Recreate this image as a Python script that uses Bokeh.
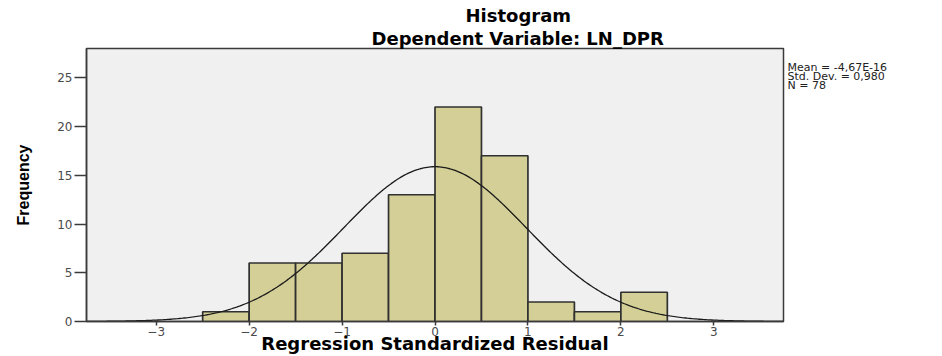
import numpy as np
from bokeh.plotting import figure
from bokeh.layouts import row
from bokeh.models import Range1d, FixedTicker, Title, ColumnDataSource
from bokeh.core.properties import value
from bokeh.embed import file_html
from bokeh.resources import INLINE

# ---- data ----
bin_left = [-2.5, -2.0, -1.5, -1.0, -0.5, 0.0, 0.5, 1.0, 1.5, 2.0]
bin_right = [-2.0, -1.5, -1.0, -0.5, 0.0, 0.5, 1.0, 1.5, 2.0, 2.5]
counts = [1, 6, 6, 7, 13, 22, 17, 2, 1, 3]
x_ticks = [-3, -2, -1, 0, 1, 2, 3]
y_ticks = [0, 5, 10, 15, 20, 25]
mean_val = -4.67e-16
std_val = 0.980
n_val = 78
bin_width = 0.5
stats_lines = ["Mean = -4,67E-16", "Std. Dev. = 0,980", "N = 78"]
title_lines = ["Histogram", "Dependent Variable: LN_DPR"]
x_title = "Regression Standardized Residual"
y_title = "Frequency"

X0, X1 = -3.75, 3.75
Y0, Y1 = 0, 28
FL, FR, FT, FB = 86, 783, 48, 322
MAIN_W = 786
SIDE_W = 942 - MAIN_W

p = figure(width=MAIN_W, height=356, output_backend="svg", toolbar_location=None,
           title=None,
           x_range=Range1d(X0, X1), y_range=Range1d(Y0, Y1),
           min_border_left=FL, min_border_right=MAIN_W - FR,
           min_border_top=FT, min_border_bottom=356 - FB)
p.background_fill_color = "#f0f0f0"
p.border_fill_color = "white"
p.outline_line_color = "#3a3a3a"
p.outline_line_width = 1.5
p.xgrid.visible = False
p.ygrid.visible = False

src = ColumnDataSource(dict(left=bin_left, right=bin_right, top=counts,
                            bottom=[0] * len(counts)))
p.quad(left="left", right="right", top="top", bottom="bottom", source=src,
       fill_color="#d3cf97", line_color="#303030", line_width=1.7)

xs = np.linspace(X0, X1, 400)
ys = n_val * bin_width * np.exp(-0.5 * ((xs - mean_val) / std_val) ** 2) / (std_val * np.sqrt(2 * np.pi))
p.line(xs, ys, line_color="#1a1a1a", line_width=1.3)

# axes
for ax in (p.xaxis[0], p.yaxis[0]):
    ax.axis_line_color = "#3a3a3a"
    ax.axis_line_width = 1.5
    ax.major_tick_line_color = "#3a3a3a"
    ax.major_tick_line_width = 1.5
    ax.minor_tick_line_color = None
    ax.major_tick_in = 0
    ax.major_label_text_font = "DejaVu Sans"
    ax.major_label_text_font_size = "12px"
    ax.major_label_text_color = "#4a4a4a"

p.xaxis.ticker = FixedTicker(ticks=x_ticks)
p.xaxis.major_tick_out = 4
p.xaxis.major_label_standoff = 1
p.xaxis.axis_label = x_title
p.xaxis.axis_label_text_font = "DejaVu Sans"
p.xaxis.axis_label_text_font_style = "bold"
p.xaxis.axis_label_text_font_size = "18px"
p.xaxis.axis_label_text_color = "black"
p.xaxis.axis_label_standoff = -6

p.yaxis.ticker = FixedTicker(ticks=y_ticks)
p.yaxis.major_tick_out = 12
p.yaxis.major_label_standoff = 2
p.yaxis.axis_label = y_title
p.yaxis.axis_label_text_font = "Liberation Sans"
p.yaxis.axis_label_text_font_style = "bold"
p.yaxis.axis_label_text_font_size = "16px"
p.yaxis.axis_label_text_color = "black"
p.yaxis.axis_label_standoff = 22

# two-line title (inner line added first), centred near x=518 of the page
p.add_layout(Title(text=title_lines[1], align="left", offset=285, standoff=0,
                   text_font="DejaVu Sans", text_font_style="bold",
                   text_font_size="18px", text_color="black"), "above")
p.add_layout(Title(text=title_lines[0], align="left", offset=379, standoff=0,
                   text_font="DejaVu Sans", text_font_style="bold",
                   text_font_size="18px", text_color="black"), "above")

# statistics text in a narrow side panel; its frame is aligned with the main
# frame (rows 48..322), so its y range is set to page pixels, y downward
s = figure(width=SIDE_W, height=356, output_backend="svg", toolbar_location=None,
           x_range=Range1d(0, SIDE_W), y_range=Range1d(FB, FT),
           min_border=0, title=None)
s.axis.visible = False
s.grid.visible = False
s.outline_line_color = None
s.background_fill_color = "white"
s.border_fill_color = "white"
s.text(x=[1, 1, 1], y=[67, 76, 85], text=stats_lines,
       text_font=value("DejaVu Sans"), text_font_size="11px",
       text_color="#222222", text_baseline="alphabetic", text_align="left")

layout = row(p, s, spacing=0)
open("out.html", "w").write(file_html(layout, INLINE))
